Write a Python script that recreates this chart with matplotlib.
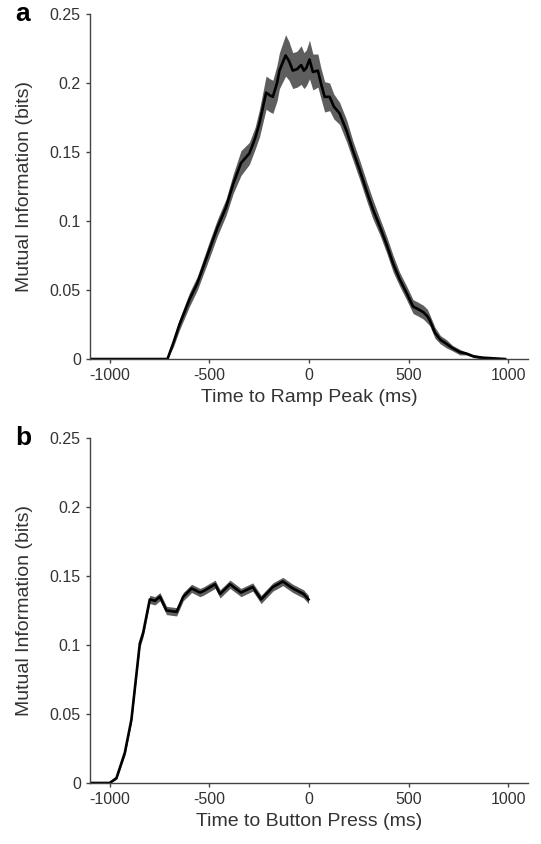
import numpy as np
import matplotlib.pyplot as plt

plt.rcParams['font.family'] = ['Liberation Sans', 'DejaVu Sans']
plt.rcParams['axes.unicode_minus'] = False

# panel a: MI vs time to ramp peak
t_ramp = [-1100, -710, -680, -650, -600, -560, -500, -460, -416, -380, -341, -299, -270,
          -248, -215, -195, -181, -160, -148, -117, -100, -81, -60, -39, -25, -13, 3, 20,
          45, 60, 79, 104, 125, 154, 190, 221, 255, 289, 320, 356, 390, 423, 455, 490,
          523, 550, 574, 595, 607, 633, 660, 691, 720, 758, 790, 826, 870, 985]
mi_ramp = [0.0, 0.0, 0.012, 0.025, 0.043, 0.055, 0.079, 0.095, 0.110, 0.127, 0.142, 0.149,
           0.160, 0.171, 0.193, 0.191, 0.190, 0.200, 0.209, 0.220, 0.216, 0.209, 0.210,
           0.213, 0.209, 0.211, 0.217, 0.208, 0.209, 0.200, 0.190, 0.190, 0.183, 0.178,
           0.165, 0.151, 0.137, 0.122, 0.109, 0.096, 0.083, 0.069, 0.058, 0.048, 0.038,
           0.036, 0.034, 0.031, 0.028, 0.019, 0.014, 0.011, 0.008, 0.005, 0.004, 0.002,
           0.001, 0.0]
sem_ramp = [0.0, 0.0, 0.003, 0.004, 0.005, 0.005, 0.006, 0.006, 0.006, 0.007, 0.009, 0.008,
            0.008, 0.010, 0.012, 0.012, 0.012, 0.013, 0.013, 0.015, 0.014, 0.013, 0.013,
            0.014, 0.013, 0.013, 0.014, 0.013, 0.012, 0.011, 0.011, 0.010, 0.009, 0.008,
            0.008, 0.007, 0.007, 0.007, 0.007, 0.006, 0.006, 0.006, 0.005, 0.005, 0.005,
            0.005, 0.005, 0.005, 0.004, 0.004, 0.003, 0.003, 0.002, 0.002, 0.001, 0.001,
            0.001, 0.0]

# panel b: MI vs time to button press
t_press = [-1100, -1000, -966, -924, -891, -849, -832, -799, -773, -748, -715, -664, -631,
           -589, -547, -530, -471, -446, -396, -341, -282, -240, -181, -131, -81, -27, -2]
mi_press = [0.0, 0.0, 0.0036, 0.022, 0.046, 0.101, 0.109, 0.133, 0.132, 0.135, 0.125, 0.124,
            0.135, 0.141, 0.138, 0.139, 0.144, 0.137, 0.144, 0.138, 0.142, 0.133, 0.142,
            0.146, 0.141, 0.137, 0.133]
sem_press = [0.0, 0.0, 0.001, 0.002, 0.002, 0.003, 0.003, 0.003, 0.003, 0.003, 0.003, 0.003,
             0.003, 0.003, 0.003, 0.003, 0.003, 0.003, 0.003, 0.003, 0.003, 0.003, 0.003,
             0.003, 0.003, 0.003, 0.003]

txt = '#333333'
fig = plt.figure(figsize=(5.41, 8.44), dpi=100)
ax_a = fig.add_axes([0.166, 0.5746, 0.810, 0.4088])
ax_b = fig.add_axes([0.166, 0.0723, 0.810, 0.4088])

panels = [(ax_a, t_ramp, mi_ramp, sem_ramp, 'Time to Ramp Peak (ms)', 'a'),
          (ax_b, t_press, mi_press, sem_press, 'Time to Button Press (ms)', 'b')]

for ax, t, m, s, xl, letter in panels:
    t = np.array(t); m = np.array(m); s = np.array(s)
    ax.fill_between(t, m - s, m + s, color='#5e5e5e', lw=0)
    ax.plot(t, m, color='black', lw=1.9)
    ax.set_xlim(-1100, 1100)
    ax.set_ylim(0, 0.25)
    ax.set_xticks([-1000, -500, 0, 500, 1000])
    ax.set_yticks([0, 0.05, 0.1, 0.15, 0.2, 0.25])
    ax.set_yticklabels(['0', '0.05', '0.1', '0.15', '0.2', '0.25'])
    ax.spines['top'].set_visible(False)
    ax.spines['right'].set_visible(False)
    for sp in ['left', 'bottom']:
        ax.spines[sp].set_color('#444444')
        ax.spines[sp].set_linewidth(1.0)
    ax.tick_params(direction='out', length=3, width=1, colors='#444444',
                   labelsize=11.5, labelcolor=txt)
    ax.set_xlabel(xl, fontsize=14, color=txt, labelpad=4)
    ax.set_ylabel('Mutual Information (bits)', fontsize=14, color=txt, labelpad=12)
    ax.text(-0.17, 1.0, letter, transform=ax.transAxes, fontsize=19,
            fontweight='bold', color='black', va='center', ha='left')

fig.savefig('out.png', dpi=100)
